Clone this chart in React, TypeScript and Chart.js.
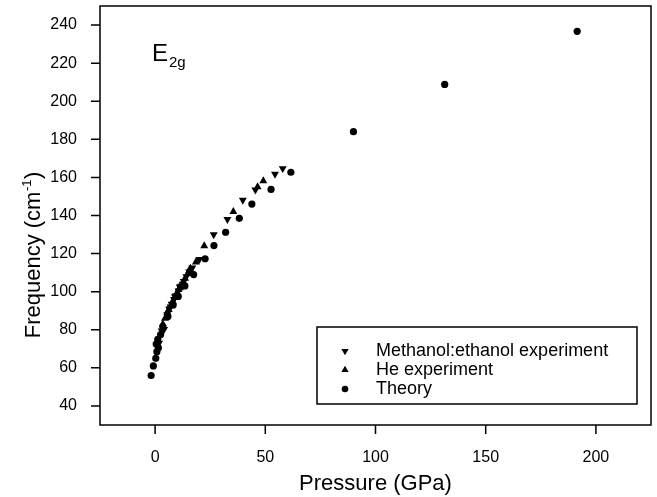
import React, { useEffect, useRef } from "react";
import { Chart, registerables } from "chart.js";
Chart.register(...registerables);

// Methanol:ethanol experiment (down triangles)
const methanolP = [57.9, 54.4, 45.5, 39.8, 32.8, 26.6, 20.1, 16.9, 15.5, 14.2, 13.0, 12.5, 11.8, 11.2, 10.6, 9.5, 9.0, 8.6, 7.5, 7.0, 6.4, 5.5, 4.1, 3.0, 1.8];
const methanolF = [164.7, 161.7, 153.5, 148.1, 138.0, 130.0, 117.0, 112.6, 110.5, 108.0, 105.5, 104.0, 103.0, 102.5, 100.5, 98.0, 97.5, 96.0, 93.5, 92.0, 91.0, 88.0, 80.3, 79.5, 73.0];

// He experiment (up triangles)
const heP = [49.1, 46.5, 35.5, 22.3, 18.5, 16.0, 15.5, 14.8, 13.6, 12.4, 11.2, 10.6, 10.0, 9.0, 8.0, 7.0, 6.2, 5.5, 4.5, 3.5];
const heF = [158.2, 155.0, 142.0, 124.0, 115.5, 112.3, 111.0, 109.5, 107.0, 104.5, 102.0, 101.0, 99.5, 97.0, 95.0, 92.5, 90.5, 89.0, 86.0, 83.0];

// Theory (circles)
const theoryP = [-1.8, -0.8, 0.3, 0.8, 1.5, 0.5, 1.2, 2.5, 3.5, 5.8, 8.2, 10.5, 13.5, 17.5, 22.7, 26.7, 32.0, 38.2, 43.9, 52.6, 61.6, 90, 131.4, 191.5];
const theoryF = [56, 61, 65, 68.5, 70.5, 72.5, 75, 77.5, 81.5, 87, 93, 97.5, 103, 109, 117.3, 124.2, 131.2, 138.5, 146.0, 153.7, 162.7, 184, 208.8, 236.7];

const xTickLabels = [0, 50, 100, 150, 200];
const yTickLabels = [40, 60, 80, 100, 120, 140, 160, 180, 200, 220, 240];

const seriesLabels = ["Methanol:ethanol experiment", "He experiment", "Theory"];

const FONT = "'Liberation Sans', Arial, Helvetica, sans-serif";

function pts(p: number[], f: number[]) {
  return p.map((x, i) => ({ x, y: f[i] }));
}

function tri(ctx: CanvasRenderingContext2D, x: number, y: number, r: number, down: boolean) {
  const s = down ? -1 : 1;
  ctx.beginPath();
  ctx.moveTo(x, y - s * r);
  ctx.lineTo(x + r * 0.866, y + s * r * 0.5);
  ctx.lineTo(x - r * 0.866, y + s * r * 0.5);
  ctx.closePath();
  ctx.fill();
}

const framePlugin = {
  id: "frame",
  afterDatasetsDraw(chart: any) {
    const { ctx, chartArea: a, scales } = chart;
    ctx.save();
    ctx.strokeStyle = "#000";
    ctx.lineWidth = 1.5;
    ctx.strokeRect(a.left, a.top, a.right - a.left, a.bottom - a.top);
    ctx.beginPath();
    scales.x.ticks.forEach((t: any) => {
      const px = scales.x.getPixelForValue(t.value);
      const len = xTickLabels.includes(t.value) ? 9 : 5;
      ctx.moveTo(px, a.bottom);
      ctx.lineTo(px, a.bottom + len);
    });
    scales.y.ticks.forEach((t: any) => {
      const py = scales.y.getPixelForValue(t.value);
      const len = yTickLabels.includes(t.value) ? 9 : 5;
      ctx.moveTo(a.left, py);
      ctx.lineTo(a.left - len, py);
    });
    ctx.stroke();
    ctx.restore();
  },
  afterDraw(chart: any) {
    const ctx: CanvasRenderingContext2D = chart.ctx;
    ctx.save();
    ctx.fillStyle = "#000";
    ctx.strokeStyle = "#000";

    // E2g annotation
    ctx.textBaseline = "alphabetic";
    ctx.textAlign = "left";
    ctx.font = `24px ${FONT}`;
    ctx.fillText("E", 152, 61);
    const wE = ctx.measureText("E").width;
    ctx.font = `15px ${FONT}`;
    ctx.fillText("2g", 152 + wE + 1, 67);

    // Y axis title with superscript
    ctx.save();
    ctx.translate(32, 255);
    ctx.rotate(-Math.PI / 2);
    ctx.font = `22px ${FONT}`;
    const t1 = "Frequency (cm";
    const w1 = ctx.measureText(t1).width;
    const w3 = ctx.measureText(")").width;
    ctx.font = `13px ${FONT}`;
    const w2 = ctx.measureText("-1").width;
    const total = w1 + w2 + w3 + 1;
    const x0 = -total / 2;
    ctx.font = `22px ${FONT}`;
    ctx.fillText(t1, x0, 8);
    ctx.font = `13px ${FONT}`;
    ctx.fillText("-1", x0 + w1 + 0.5, -1);
    ctx.font = `22px ${FONT}`;
    ctx.fillText(")", x0 + w1 + w2 + 1, 8);
    ctx.restore();

    // Legend box
    ctx.lineWidth = 1.5;
    ctx.strokeRect(317, 327, 320, 77);
    const rows = [351, 370, 389];
    ctx.font = `18px ${FONT}`;
    ctx.textBaseline = "middle";
    rows.forEach((ry, i) => {
      if (i === 0) tri(ctx, 345, ry, 4.2, true);
      else if (i === 1) tri(ctx, 345, ry, 4.2, false);
      else {
        ctx.beginPath();
        ctx.arc(345, ry, 3.3, 0, Math.PI * 2);
        ctx.fill();
      }
      ctx.fillText(seriesLabels[i], 376, ry);
    });
    ctx.restore();
  },
};

export default function App() {
  const ref = useRef<HTMLCanvasElement>(null);
  useEffect(() => {
    document.body.style.margin = "0";
    const common = { showLine: false, pointBorderWidth: 0, pointBackgroundColor: "#000", pointBorderColor: "#000" };
    const c = new Chart(ref.current!, {
      type: "scatter",
      data: {
        datasets: [
          { ...common, label: seriesLabels[0], data: pts(methanolP, methanolF), pointStyle: "triangle", pointRotation: 180, pointRadius: 4.6 },
          { ...common, label: seriesLabels[1], data: pts(heP, heF), pointStyle: "triangle", pointRadius: 4.6 },
          { ...common, label: seriesLabels[2], data: pts(theoryP, theoryF), pointStyle: "circle", pointRadius: 3.6 },
        ] as any,
      },
      plugins: [framePlugin],
      options: {
        animation: false,
        responsive: false,
        devicePixelRatio: 1,
        layout: { padding: { left: 0, right: 6, top: 6, bottom: 0 } },
        plugins: { legend: { display: false }, tooltip: { enabled: false } },
        scales: {
          x: {
            type: "linear",
            min: -25,
            max: 225,
            afterFit: (s: any) => { s.height = 72; s.paddingLeft = 0; s.paddingRight = 0; },
            grid: { display: false },
            border: { display: false },
            ticks: {
              stepSize: 25,
              autoSkip: false,
              maxRotation: 0,
              padding: 15,
              color: "#000",
              font: { family: FONT, size: 16 },
              callback: (v: any) => (xTickLabels.includes(Number(v)) ? String(v) : null),
            },
            title: { display: true, text: "Pressure (GPa)", color: "#000", font: { family: FONT, size: 22 }, padding: 0 },
          },
          y: {
            type: "linear",
            min: 30,
            max: 250,
            afterFit: (s: any) => { s.width = 100; s.paddingTop = 0; s.paddingBottom = 0; },
            grid: { display: false },
            border: { display: false },
            ticks: {
              stepSize: 10,
              autoSkip: false,
              padding: 15,
              color: "#000",
              font: { family: FONT, size: 16 },
              callback: (v: any) => (yTickLabels.includes(Number(v)) ? String(v) : null),
            },
          },
        },
      } as any,
    });
    return () => c.destroy();
  }, []);
  return <canvas ref={ref} width={657} height={497} style={{ display: "block" }} />;
}
